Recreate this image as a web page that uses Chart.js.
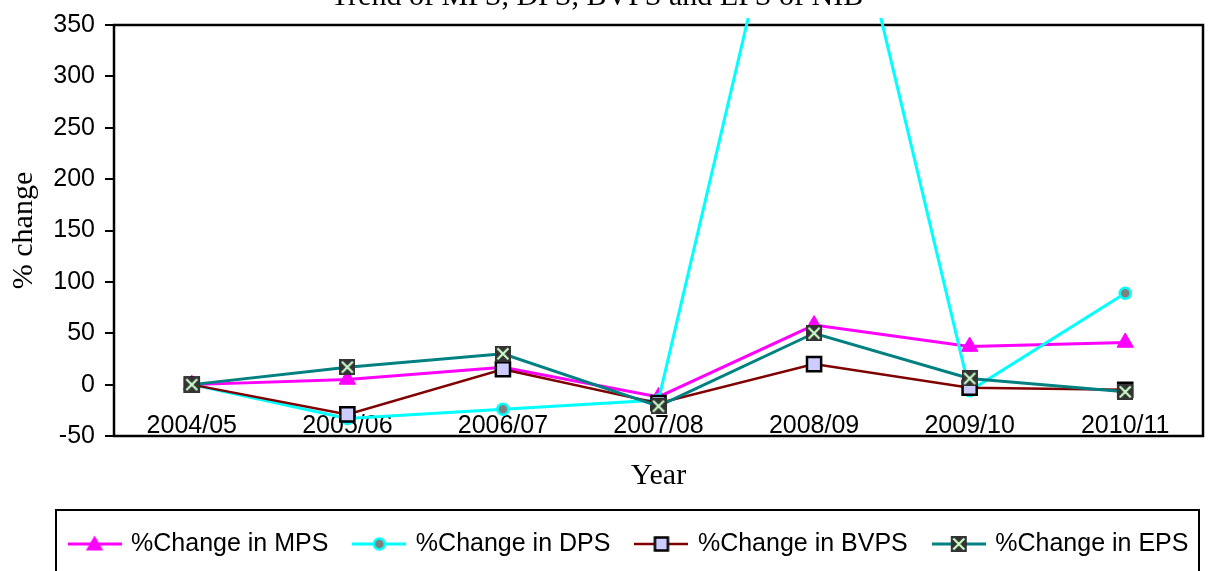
<!DOCTYPE html>
<html><head><meta charset="utf-8">
<script src="https://cdn.jsdelivr.net/npm/chart.js@4"></script>
<style>html,body{margin:0;padding:0;background:#fff;overflow:hidden;}</style>
</head><body>
<canvas id="c" width="1208" height="571"></canvas>
<script>
const chartTitle = 'Trend of MPS, DPS, BVPS and EPS of NIB';
const xTitle = 'Year';
const yTitle = '% change';
const categories = ['2004/05','2005/06','2006/07','2007/08','2008/09','2009/10','2010/11'];
const seriesNames = ['%Change in MPS','%Change in DPS','%Change in BVPS','%Change in EPS'];
const mps  = [0, 5, 17, -12, 58, 37, 41];
const dps  = [0, -33, -24, -15, 630, -6, 89];
const bvps = [0, -29, 15, -18, 20, -3, -5];
const eps  = [0, 17, 30, -21, 50, 6, -7];
const yMin = -50, yMax = 350, yStep = 50;

const SANS = '"Liberation Sans", Arial, sans-serif';
const SERIF = '"Liberation Serif", "Times New Roman", serif';

function mk(w, h, fn){ const c=document.createElement('canvas'); c.width=w; c.height=h; fn(c.getContext('2d')); return c; }
function drawTri(g, cx, cy, r, col){ g.fillStyle=col; g.beginPath(); g.moveTo(cx, cy-r); g.lineTo(cx+r*0.866, cy+r*0.5); g.lineTo(cx-r*0.866, cy+r*0.5); g.closePath(); g.fill(); }
function drawCirc(g, cx, cy){ g.fillStyle='#808080'; g.strokeStyle='#00FFFF'; g.lineWidth=2.5; g.beginPath(); g.arc(cx,cy,5.5,0,Math.PI*2); g.fill(); g.stroke(); }
function drawSq(g, cx, cy){ g.fillStyle='#CCCCFF'; g.strokeStyle='#000'; g.lineWidth=2.5; g.fillRect(cx-6.5,cy-6.5,13,13); g.strokeRect(cx-6.5,cy-6.5,13,13); }
function drawX(g, cx, cy){ g.fillStyle='#333333'; g.fillRect(cx-8,cy-8,16,16); g.strokeStyle='#CCFFCC'; g.lineWidth=2.2; g.beginPath(); g.moveTo(cx-5.5,cy-5.5); g.lineTo(cx+5.5,cy+5.5); g.moveTo(cx+5.5,cy-5.5); g.lineTo(cx-5.5,cy+5.5); g.stroke(); }

const epsPoint = mk(16, 16, g => drawX(g, 8, 8));

function legendImg(color, lw, markerFn){
  return mk(54, 22, g => { g.strokeStyle=color; g.lineWidth=lw; g.beginPath(); g.moveTo(0,11); g.lineTo(54,11); g.stroke(); markerFn(g, 27, 11); });
}
const legendImgs = [
  legendImg('#FF00FF', 3, (g,x,y)=>drawTri(g,x,y+1.5,10,'#FF00FF')),
  legendImg('#00FFFF', 3, drawCirc),
  legendImg('#800000', 2.5, drawSq),
  legendImg('#008080', 3, drawX)
];

const deco = {
  id: 'deco',
  afterLayout(chart){ chart.legend.left += 28; chart.legend.right += 28; },
  beforeDatasetsDraw(chart){
    const {ctx, chartArea:a} = chart;
    ctx.save(); ctx.strokeStyle='#000'; ctx.lineWidth=2.5;
    ctx.strokeRect(a.left, a.top, a.right-a.left, a.bottom-a.top);
    ctx.restore();
  },
  afterDraw(chart){
    const ctx = chart.ctx;
    ctx.save();
    ctx.fillStyle='#000'; ctx.font='30px '+SERIF; ctx.textAlign='center'; ctx.textBaseline='alphabetic';
    ctx.fillText(chartTitle, 597, 5);
    ctx.strokeStyle='#000'; ctx.lineWidth=2;
    ctx.strokeRect(56, 510, 1143, 100);
    ctx.restore();
  }
};

new Chart(document.getElementById('c'), {
  type: 'line',
  data: {
    labels: categories,
    datasets: [
      { label: seriesNames[0], data: mps, borderColor:'#FF00FF', backgroundColor:'#FF00FF', borderWidth:3,
        pointStyle:'triangle', pointRadius:9.5, pointBorderWidth:1, pointBackgroundColor:'#FF00FF', pointBorderColor:'#FF00FF', order:4 },
      { label: seriesNames[1], data: dps, borderColor:'#00FFFF', backgroundColor:'#808080', borderWidth:3,
        pointStyle:'circle', pointRadius:5.5, pointBorderWidth:2.5, pointBackgroundColor:'#808080', pointBorderColor:'#00FFFF', order:3,
        clip:{left:0, top:7, right:0, bottom:0} },
      { label: seriesNames[2], data: bvps, borderColor:'#800000', backgroundColor:'#CCCCFF', borderWidth:2.5,
        pointStyle:'rect', pointRadius:10, pointBorderWidth:2.5, pointBackgroundColor:'#CCCCFF', pointBorderColor:'#000', order:2 },
      { label: seriesNames[3], data: eps, borderColor:'#008080', backgroundColor:'#333', borderWidth:3,
        pointStyle: epsPoint, pointRadius:8, order:1 }
    ]
  },
  options: {
    responsive:false, animation:false, devicePixelRatio:1,
    layout:{ autoPadding:false, padding:{ top:24, right:5, bottom:4.5, left:0 } },
    elements:{ line:{ tension:0 } },
    scales: {
      x: { type:'category', position:{ y:0 }, offset:true,
           grid:{ display:false, drawTicks:false }, border:{ display:false },
           ticks:{ font:{ family:SANS, size:25 }, color:'#000', padding:26, maxRotation:0, autoSkip:false },
           afterFit(s){ s.paddingLeft = 0; s.paddingRight = 0; } },
      y: { min:yMin, max:yMax,
           ticks:{ stepSize:yStep, font:{ family:SANS, size:25 }, color:'#000', padding:10 },
           grid:{ drawOnChartArea:false, drawTicks:true, tickLength:9, color:'#000', lineWidth:2 },
           border:{ display:false },
           title:{ display:true, text:yTitle, font:{ family:SERIF, size:30 }, color:'#000', padding:{ top:6, bottom:0 } },
           afterFit(s){ s.width = 114; s.paddingLeft = 0; s.paddingRight = 0; } }
    },
    plugins: {
      tooltip:{ enabled:false },
      title:{ display:true, text:xTitle, position:'bottom', fullSize:false, weight:100,
              font:{ family:SERIF, size:30, weight:'normal' }, color:'#000', padding:{ top:22, bottom:10.5 } },
      legend:{ display:true, position:'bottom',
        labels:{ usePointStyle:true, pointStyleWidth:48, boxHeight:25, padding:27, color:'#000',
                 font:{ family:SANS, size:25 },
                 generateLabels(chart){
                   return chart.data.datasets.map((d,i)=>({ text:d.label, pointStyle:legendImgs[i], fillStyle:'#fff',
                     strokeStyle:'#fff', lineWidth:0, hidden:false, datasetIndex:i, fontColor:'#000' }));
                 } } }
    }
  },
  plugins:[deco]
});
</script>
</body></html>
